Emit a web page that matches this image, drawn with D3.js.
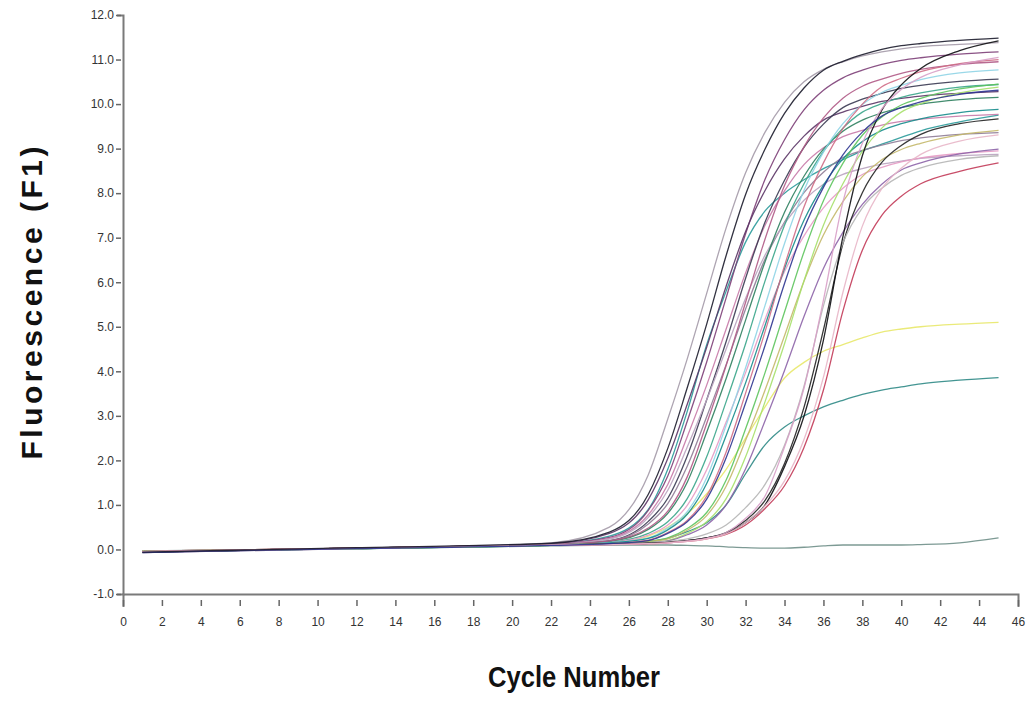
<!DOCTYPE html>
<html>
<head>
<meta charset="utf-8">
<script src="https://cdn.jsdelivr.net/npm/d3@7"></script>
<style>
  html, body { margin: 0; padding: 0; background: #fff; }
  #chart text { font-family: "Liberation Sans", Arial, sans-serif; }
</style>
</head>
<body>
<div id="chart"></div>
<script>
// amplification curves, values
const cycles = [1, 12, 22, 25, 27, 28, 29, 30, 31, 32, 33, 34, 35, 36, 37, 38, 39, 40, 41, 43, 45];

const curveColors = [
  '#6f8f88', '#2f8a86', '#e8e86a', '#2a9a9a',
  '#a49aa8', '#7d3f78', '#5b3566', '#c87aa8', '#3a3a52', '#8e7c96', '#b9a3bf',
  '#2d7f5e', '#b05a86', '#3aa58a', '#e59ac4', '#8fd4e6', '#168c8c', '#cf6d86',
  '#5dc45d', '#c4b86a', '#a6e06a', '#8d64a8',
  '#222222', '#b5b5b5', '#0e0e12', '#c23a58', '#d8a0c8', '#e8b6c8',
  '#2e3590', '#1c1c2c'
];

const curveValues = [
  // negative sample, stays flat
  [-0.03, 0.02, 0.08, 0.1, 0.1, 0.1, 0.09, 0.08, 0.06, 0.04, 0.03, 0.03, 0.05, 0.08, 0.1, 0.1, 0.1, 0.1, 0.11, 0.15, 0.26],
  // teal, lowest plateau
  [-0.05, 0.02, 0.09, 0.12, 0.18, 0.25, 0.4, 0.6, 1.0, 1.7, 2.35, 2.75, 3.0, 3.2, 3.35, 3.48, 3.58, 3.65, 3.72, 3.8, 3.86],
  // yellow, low plateau
  [-0.04, 0.03, 0.1, 0.14, 0.3, 0.5, 0.8, 1.25, 1.8, 2.5, 3.2, 3.85, 4.2, 4.45, 4.6, 4.75, 4.88, 4.95, 5.0, 5.06, 5.1],
  // teal, early but slow
  [-0.05, 0.03, 0.12, 0.3, 0.9, 1.8, 3.1, 4.6, 5.8, 6.9, 7.6, 8.0, 8.3, 8.55, 8.75, 8.95, 9.1, 9.25, 9.4, 9.6, 9.75],
  // early group
  [-0.05, 0.03, 0.15, 0.5, 1.68, 2.93, 4.28, 5.75, 7.22, 8.46, 9.37, 10.04, 10.5, 10.78, 10.95, 11.08, 11.17, 11.24, 11.29, 11.34, 11.38],
  [-0.06, 0.03, 0.12, 0.27, 0.88, 1.65, 2.88, 4.21, 5.65, 7.09, 8.31, 9.2, 9.87, 10.31, 10.59, 10.76, 10.89, 10.98, 11.04, 11.12, 11.17],
  [-0.07, 0.02, 0.13, 0.36, 1.12, 2.04, 3.26, 4.54, 5.91, 7.14, 8.06, 8.77, 9.28, 9.64, 9.82, 9.95, 10.06, 10.13, 10.18, 10.24, 10.28],
  [-0.05, 0.03, 0.12, 0.25, 0.78, 1.46, 2.53, 3.69, 4.95, 6.21, 7.28, 8.05, 8.64, 9.02, 9.27, 9.41, 9.53, 9.61, 9.66, 9.73, 9.77],
  [-0.04, 0.03, 0.12, 0.2, 0.63, 1.15, 2.1, 3.36, 4.67, 6.09, 7.35, 8.29, 9.03, 9.55, 9.92, 10.11, 10.24, 10.35, 10.42, 10.51, 10.56],
  [-0.05, 0.03, 0.11, 0.19, 0.57, 1.03, 1.87, 2.98, 4.15, 5.4, 6.52, 7.35, 8.01, 8.47, 8.8, 8.96, 9.08, 9.18, 9.24, 9.32, 9.36],
  [-0.05, 0.02, 0.11, 0.23, 0.72, 1.33, 2.3, 3.36, 4.5, 5.64, 6.61, 7.32, 7.84, 8.2, 8.42, 8.55, 8.65, 8.72, 8.78, 8.84, 8.87],
  // middle group
  [-0.06, 0.03, 0.1, 0.18, 0.45, 0.81, 1.51, 2.63, 3.84, 5.15, 6.46, 7.57, 8.38, 8.99, 9.39, 9.64, 9.8, 9.92, 10.0, 10.1, 10.15],
  [-0.04, 0.03, 0.11, 0.19, 0.48, 0.86, 1.63, 2.83, 4.13, 5.55, 6.97, 8.17, 9.04, 9.69, 10.13, 10.4, 10.56, 10.69, 10.78, 10.89, 10.95],
  [-0.05, 0.02, 0.1, 0.16, 0.36, 0.62, 1.14, 2.08, 3.32, 4.62, 6.03, 7.28, 8.21, 8.94, 9.46, 9.82, 10.01, 10.15, 10.25, 10.38, 10.44],
  [-0.05, 0.03, 0.1, 0.15, 0.32, 0.55, 0.99, 1.79, 2.86, 3.97, 5.17, 6.24, 7.04, 7.67, 8.11, 8.42, 8.58, 8.7, 8.79, 8.89, 8.95],
  [-0.04, 0.02, 0.1, 0.15, 0.26, 0.48, 0.85, 1.61, 2.79, 4.08, 5.48, 6.87, 8.06, 8.92, 9.56, 9.99, 10.26, 10.42, 10.55, 10.7, 10.77],
  [-0.05, 0.03, 0.1, 0.15, 0.25, 0.44, 0.79, 1.48, 2.56, 3.74, 5.03, 6.31, 7.39, 8.18, 8.77, 9.16, 9.41, 9.56, 9.67, 9.81, 9.88],
  [-0.04, 0.03, 0.1, 0.13, 0.21, 0.38, 0.65, 1.2, 2.19, 3.51, 4.89, 6.37, 7.69, 8.68, 9.45, 10.0, 10.39, 10.58, 10.73, 10.91, 11.0],
  [-0.05, 0.02, 0.09, 0.13, 0.18, 0.26, 0.47, 0.83, 1.56, 2.71, 3.97, 5.33, 6.68, 7.83, 8.67, 9.3, 9.71, 9.98, 10.13, 10.34, 10.45],
  [-0.05, 0.03, 0.1, 0.13, 0.18, 0.24, 0.43, 0.76, 1.42, 2.45, 3.58, 4.8, 6.02, 7.06, 7.81, 8.37, 8.75, 8.98, 9.12, 9.31, 9.41],
  [-0.04, 0.02, 0.09, 0.12, 0.16, 0.2, 0.36, 0.62, 1.14, 2.08, 3.32, 4.62, 6.03, 7.28, 8.21, 8.94, 9.46, 9.82, 10.01, 10.25, 10.38],
  [-0.05, 0.03, 0.1, 0.12, 0.15, 0.19, 0.33, 0.55, 1.0, 1.81, 2.89, 4.02, 5.23, 6.31, 7.12, 7.75, 8.2, 8.52, 8.68, 8.88, 8.99],
  // late group
  [-0.05, 0.03, 0.1, 0.12, 0.14, 0.16, 0.2, 0.26, 0.38, 0.65, 1.1, 1.93, 3.19, 4.93, 6.86, 8.01, 8.69, 9.07, 9.32, 9.56, 9.67],
  [-0.05, 0.03, 0.1, 0.12, 0.15, 0.18, 0.24, 0.35, 0.55, 0.94, 1.46, 2.34, 3.66, 5.47, 6.88, 7.67, 8.11, 8.4, 8.57, 8.76, 8.84],
  [-0.06, 0.03, 0.1, 0.12, 0.14, 0.16, 0.2, 0.26, 0.36, 0.6, 1.0, 1.86, 2.99, 4.7, 7.02, 8.84, 9.86, 10.43, 10.8, 11.2, 11.42],
  [-0.05, 0.03, 0.1, 0.11, 0.13, 0.15, 0.18, 0.24, 0.34, 0.55, 0.92, 1.43, 2.29, 3.58, 5.35, 6.72, 7.5, 7.93, 8.21, 8.49, 8.68],
  [-0.05, 0.02, 0.1, 0.11, 0.13, 0.15, 0.19, 0.25, 0.38, 0.7, 1.2, 2.3, 3.62, 5.6, 7.8, 9.12, 9.89, 10.33, 10.6, 10.88, 11.05],
  [-0.05, 0.03, 0.1, 0.11, 0.13, 0.15, 0.18, 0.24, 0.35, 0.6, 0.98, 1.54, 2.47, 3.87, 5.77, 7.26, 8.1, 8.56, 8.87, 9.17, 9.31],
  // dark ones drawn on top
  [-0.07, 0.02, 0.09, 0.13, 0.2, 0.36, 0.62, 1.13, 2.06, 3.29, 4.58, 5.97, 7.21, 8.13, 8.86, 9.37, 9.73, 9.92, 10.05, 10.22, 10.31],
  [-0.06, 0.04, 0.14, 0.39, 1.24, 2.27, 3.63, 5.06, 6.6, 7.97, 8.99, 9.79, 10.36, 10.76, 10.96, 11.11, 11.23, 11.31, 11.36, 11.43, 11.48]
];

const xTicks = d3.range(0, 47, 2);
const yTicks = d3.range(-1, 13, 1);

const width = 1031, height = 704;
const marginLeft = 123, plotRight = 1018, plotTop = 15, plotBottom = 594;

const svg = d3.select('#chart')
  .append('svg')
  .attr('width', width)
  .attr('height', height);

const xScale = d3.scaleLinear().domain([0, 46]).range([marginLeft, plotRight]);
const yScale = d3.scaleLinear().domain([-1, 12]).range([plotBottom, plotTop]);

// curves
const line = d3.line()
  .curve(d3.curveMonotoneX)
  .x((d, i) => xScale(cycles[i]))
  .y(d => yScale(d));

svg.append('g')
  .selectAll('path')
  .data(curveValues)
  .enter()
  .append('path')
  .attr('fill', 'none')
  .attr('stroke', (d, i) => curveColors[i])
  .attr('stroke-width', 1.3)
  .attr('stroke-opacity', 0.9)
  .attr('d', line);

// y axis, hyphen instead of the unicode minus
const fmt = d3.format('.1f');
const yAxis = svg.append('g')
  .attr('transform', `translate(${marginLeft},0)`)
  .call(d3.axisLeft(yScale).tickValues(yTicks).tickFormat(d => fmt(d).replace('\u2212', '-')).tickSize(6).tickPadding(3));

yAxis.select('.domain').attr('stroke', '#7a7a7a').attr('stroke-width', 2);
yAxis.selectAll('.tick line').attr('stroke', '#666').attr('stroke-width', 1.5)
  .attr('x1', -2).attr('x2', -7);
yAxis.selectAll('.tick text')
  .attr('fill', '#333')
  .style('font-size', '12px')
  .attr('x', -9);

// x axis
const xAxis = svg.append('g')
  .attr('transform', `translate(0,${plotBottom})`)
  .call(d3.axisBottom(xScale).tickValues(xTicks).tickFormat(d3.format('d')).tickSize(13).tickPadding(10));

xAxis.select('.domain').attr('stroke', '#7a7a7a').attr('stroke-width', 2);
xAxis.selectAll('.tick line').attr('stroke', '#666').attr('stroke-width', 1.5)
  .attr('y1', 6).attr('y2', 12);
xAxis.selectAll('.tick text')
  .attr('fill', '#333')
  .style('font-size', '12px');

// axis titles
svg.append('text')
  .attr('transform', 'translate(42,303) rotate(-90)')
  .attr('text-anchor', 'middle')
  .attr('textLength', 313)
  .attr('lengthAdjust', 'spacing')
  .style('font-size', '30px')
  .style('font-weight', 'bold')
  .attr('fill', '#111')
  .text('Fluorescence (F1)');

svg.append('text')
  .attr('x', 574)
  .attr('y', 687)
  .attr('text-anchor', 'middle')
  .attr('textLength', 172)
  .attr('lengthAdjust', 'spacingAndGlyphs')
  .style('font-size', '29px')
  .style('font-weight', 'bold')
  .style('font-family', '"Liberation Sans Narrow", "Arial Narrow", "Liberation Sans", sans-serif')
  .attr('fill', '#111')
  .text('Cycle Number');
</script>
</body>
</html>
